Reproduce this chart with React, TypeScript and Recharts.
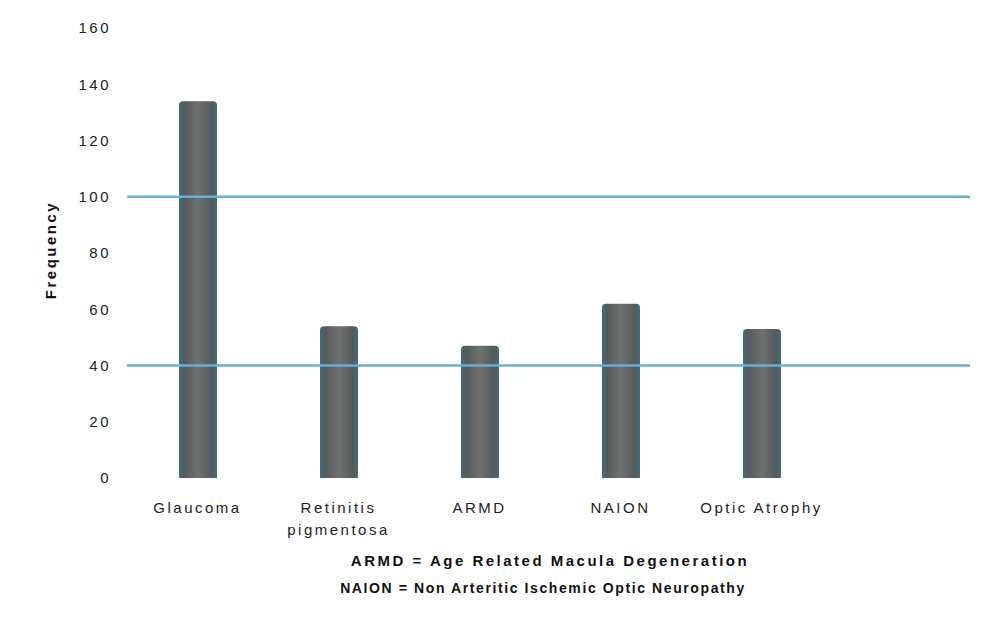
import React from 'react';
import { BarChart, Bar, XAxis, YAxis, ReferenceLine } from 'recharts';

const categories = ['Glaucoma', 'Retinitis pigmentosa', 'ARMD', 'NAION', 'Optic Atrophy'];
const frequency = [134, 54, 47, 62, 53];
const yTicks = [0, 20, 40, 60, 80, 100, 120, 140, 160];
const refValues = [40, 100];
const footnotes = [
  'ARMD = Age Related Macula Degeneration',
  'NAION = Non Arteritic Ischemic Optic Neuropathy',
];

const data = categories.map((c, i) => ({ name: c, value: frequency[i] }));

const FONT = '"Liberation Sans", Arial, sans-serif';

const XTick = (props: any) => {
  const { x, y, payload } = props;
  const label: string = payload.value;
  const lines = label.length > 15 ? label.split(' ') : [label];
  return (
    <g>
      {lines.map((l, i) => (
        <text
          key={i}
          x={x}
          y={y + 27 + i * 22}
          textAnchor="middle"
          fontFamily={FONT}
          fontSize={15}
          letterSpacing={2.5}
          fill="#222"
        >
          {l}
        </text>
      ))}
    </g>
  );
};

export default function App() {
  return (
    <div style={{ position: 'absolute', left: 0, top: 0, width: 986, height: 618, background: '#fff' }}>
      <BarChart
        width={986}
        height={618}
        data={data}
        margin={{ top: 28, right: 16, bottom: 80, left: 67 }}
      >
        <defs>
          <linearGradient id="barGrad" x1="0" y1="0" x2="1" y2="0">
            <stop offset="0%" stopColor="#3d6e7c" />
            <stop offset="15%" stopColor="#555a5c" />
            <stop offset="50%" stopColor="#707070" />
            <stop offset="85%" stopColor="#555a5c" />
            <stop offset="100%" stopColor="#3d6e7c" />
          </linearGradient>
        </defs>
        <XAxis
          dataKey="name"
          axisLine={false}
          tickLine={false}
          interval={0}
          height={60}
          padding={{ left: 0, right: 138 }}
          tick={<XTick />}
        />
        <YAxis
          width={60}
          domain={[0, 160]}
          ticks={yTicks}
          axisLine={false}
          tickLine={false}
          tickMargin={10}
          tick={{ fontFamily: FONT, fontSize: 15, fill: '#222', letterSpacing: 2.5 }}
        />
        {refValues.map((v) => (
          <ReferenceLine key={v} y={v} stroke="#6aaed3" strokeWidth={2.5} />
        ))}
        <Bar
          dataKey="value"
          barSize={38}
          fill="url(#barGrad)"
          radius={[4, 4, 0, 0]}
          isAnimationActive={false}
        />
      </BarChart>
      <div
        style={{
          position: 'absolute',
          left: 50,
          top: 250,
          transform: 'translate(-50%, -50%) rotate(-90deg)',
          fontFamily: FONT,
          fontWeight: 'bold',
          fontSize: 15,
          letterSpacing: 2.5,
          color: '#111',
          whiteSpace: 'nowrap',
        }}
      >
        Frequency
      </div>
      {footnotes.map((t, i) => (
        <div
          key={i}
          style={{
            position: 'absolute',
            left: i === 0 ? 550 : 543,
            top: 560 + i * 28,
            transform: 'translate(-50%, -50%)',
            fontFamily: FONT,
            fontWeight: 'bold',
            fontSize: i === 0 ? 15 : 14,
            letterSpacing: i === 0 ? 2.5 : 1.6,
            color: '#111',
            whiteSpace: 'nowrap',
          }}
        >
          {t}
        </div>
      ))}
    </div>
  );
}
